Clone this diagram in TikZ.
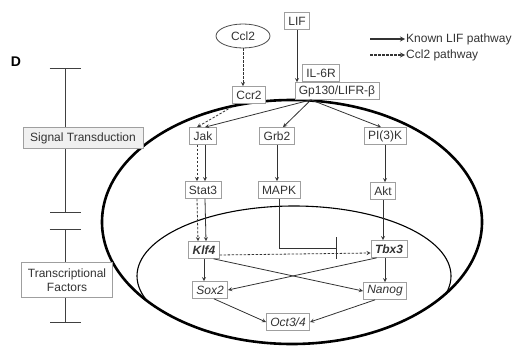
\documentclass[tikz,border=0pt]{standalone}
\usepackage{fontspec}
\setmainfont{Liberation Sans}
\usetikzlibrary{shapes.geometric,arrows.meta}
\tikzset{
  box/.style={draw=gray!75, line width=0.7pt, fill=white, inner xsep=4pt, inner ysep=2pt,
    minimum height=17pt, text=black!80, font=\fontsize{12}{13.5}\selectfont},
  gene/.style={box, font=\fontsize{12}{13.5}\selectfont\itshape},
  kgene/.style={box, font=\fontsize{12}{13.5}\selectfont\bfseries\itshape},
  arr/.style={->, line width=0.8pt, black!80},
  darr/.style={arr, dash pattern=on 2.5pt off 1.5pt},
}
\begin{document}
\begin{tikzpicture}[x=1pt, y=-1pt, >=stealth]
    \useasboundingbox (0,0) rectangle (516,345);

    % Cellula e nucleo
    \draw[line width=2.6pt] (292,222) ellipse (190pt and 122pt);
    \begin{scope}
        \clip (292,222) ellipse (190pt and 122pt);
        \draw[line width=1.1pt] (294,276) ellipse (157pt and 70pt);
    \end{scope}

    % Scala a sinistra
    \node[font=\bfseries\fontsize{14}{14}\selectfont] (lab) at (16,62) {D};
    \coordinate (sTop) at (65,68);
    \coordinate (sBot) at (65,213);
    \coordinate (tTop) at (65,229);
    \coordinate (tBot) at (65,323);
    \draw[gray!50!black, line width=0.9pt, {Bar[width=31pt]}-{Bar[width=31pt]}] (sTop) -- (sBot);
    \draw[gray!50!black, line width=0.9pt, {Bar[width=31pt]}-{Bar[width=31pt]}] (tTop) -- (tBot);
    \node[box, fill=gray!12, minimum width=120pt, minimum height=21pt] (sig) at (83,138) {Signal Transduction};
    \node[box, align=center, minimum width=91pt, minimum height=35pt] (tf) at (67,280) {Transcriptional\\Factors};

    % Recettori
    \node[ellipse, draw=black!70, line width=0.8pt, minimum width=54pt, minimum height=24pt,
          text=black!80, font=\fontsize{12}{13.5}\selectfont] (ccl) at (243,36) {Ccl2};
    \node[box] (lif) at (297,21) {LIF};
    \node[box] (il6) at (321,73) {IL-6R};
    \node[box] (gp) at (337,91) {Gp130/LIFR-β};
    \node[box] (ccr) at (249,95) {Ccr2};

    % Legenda
    \coordinate (l1) at (370,39);
    \coordinate (l2) at (370,55);
    \node[anchor=west, inner sep=1pt, text=black!80, font=\fontsize{12}{13.5}\selectfont] (lk) at (405,39) {Known LIF pathway};
    \node[anchor=west, inner sep=1pt, text=black!80, font=\fontsize{12}{13.5}\selectfont] (lc) at (405,55) {Ccl2 pathway};
    \draw[arr, line width=1.2pt] (l1) -- (lk.west);
    \draw[darr, line width=1.2pt] (l2) -- (lc.west);

    % Segnale nel citoplasma
    \node[box] (jak) at (203,136) {Jak};
    \node[box] (grb) at (277,136) {Grb2};
    \node[box] (pik) at (385,136) {PI(3)K};
    \node[box] (stat) at (203,190) {Stat3};
    \node[box] (mapk) at (279,190) {MAPK};
    \node[box] (akt) at (383,191) {Akt};

    % Fattori nel nucleo
    \node[kgene] (klf) at (204,250) {Klf4};
    \node[kgene] (tbx) at (389,249) {Tbx3};
    \node[gene] (sox) at (210,290) {Sox2};
    \node[gene] (nanog) at (385,291) {Nanog};
    \node[gene] (oct) at (288,322) {Oct3/4};

    % Frecce
    \coordinate (gpb) at ([xshift=-26pt]gp.south);
    \draw[darr] (ccl.south) -- (ccl.south |- ccr.north);
    \draw[arr] (lif.south) -- (lif.south |- gp.north);
    \draw[darr] ([yshift=-3pt]ccr.south west) -- ([xshift=-6pt]jak.north);
    \draw[arr] (gpb) -- ([xshift=2pt]jak.north);
    \draw[arr] (gpb) -- ([xshift=6pt]grb.north);
    \draw[arr] (gpb) -- ([xshift=-4pt]pik.north);
    \draw[darr] ([xshift=-6pt]jak.south) -- ([xshift=-6pt]stat.north);
    \draw[arr] ([xshift=2pt]jak.south) -- ([xshift=2pt]stat.north);
    \draw[darr] ([xshift=-6pt]stat.south) -- ([xshift=-6pt]klf.north);
    \draw[arr] ([xshift=2pt]stat.south) -- ([xshift=2pt]klf.north);
    \draw[arr] (grb.south) -- (grb.south |- mapk.north);
    \draw[arr] (pik.south) -- (pik.south |- akt.north);
    \draw[arr] (akt.south) -- (akt.south |- tbx.north);
    \coordinate (inh) at (337,248);
    \draw[line width=0.8pt, black!80, -{Bar[width=22pt]}] (mapk.south) |- (inh);
    \draw[darr] ([yshift=-5pt]klf.east) -- ([yshift=-4pt]tbx.west);
    \draw[arr] (klf.south) -- (klf.south |- sox.north);
    \draw[arr] ([xshift=-6pt]klf.south east) -- (nanog.west);
    \draw[arr] ([xshift=6pt]tbx.south west) -- (sox.east);
    \draw[arr] (tbx.south -| nanog.north) -- (nanog.north);
    \draw[arr] ([xshift=4pt]sox.south) -- (oct.west);
    \draw[arr] ([xshift=-10pt]nanog.south) -- (oct.east);
\end{tikzpicture}
\end{document}
